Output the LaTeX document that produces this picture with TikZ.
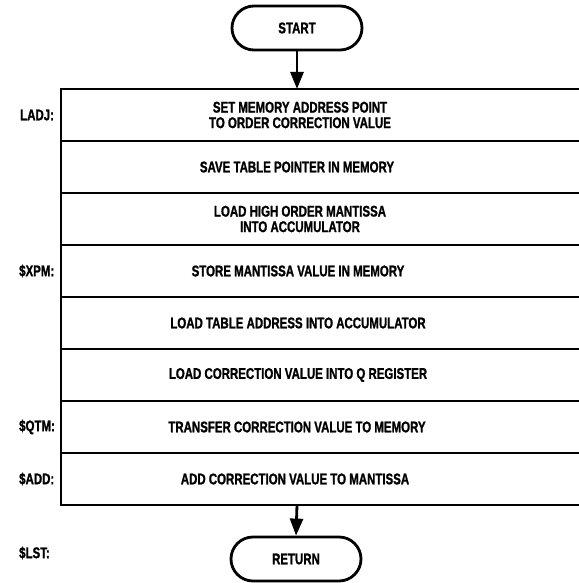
\documentclass[tikz,border=0pt]{standalone}
\usepackage{fontspec}
\setmainfont{Liberation Sans}[FakeStretch=0.74,FakeBold=1.2]
\usetikzlibrary{arrows.meta,shapes.misc}
\begin{document}
\begin{tikzpicture}[x=1pt,y=-1pt,
  every node/.style={font=\fontsize{15.5}{15.5}\selectfont\bfseries},
  term/.style={draw,line width=2.8pt,rounded rectangle,minimum width=130pt,minimum height=44pt,inner sep=0pt},
  rowtext/.style={align=center,inner sep=0pt},
  rowline/.style={line width=2.8pt},
  lbl/.style={anchor=west,inner sep=0pt},
  flow/.style={line width=2.8pt,-{Triangle[length=17pt,width=13pt]}}]
\useasboundingbox (0,0) rectangle (578,583);
% terminators
\node[term] (start) at (297,28) {START};
\node[term] (ret) at (296,559) {RETURN};
% row boxes
\foreach \t in {89,141,193,245,297,349,401,453}{
  \draw[rowline] (61,\t) rectangle (600,\t+52);
}
\coordinate (top) at (297,89);
\coordinate (bot) at (297,505);
% row texts
\node[rowtext] (r1) at (300,115) {SET MEMORY ADDRESS POINT\\TO ORDER CORRECTION VALUE};
\node[rowtext] (r2) at (297,167) {SAVE TABLE POINTER IN MEMORY};
\node[rowtext] (r3) at (300,219) {LOAD HIGH ORDER MANTISSA\\INTO ACCUMULATOR};
\node[rowtext] (r4) at (298,271) {STORE MANTISSA VALUE IN MEMORY};
\node[rowtext] (r5) at (298,323) {LOAD TABLE ADDRESS INTO ACCUMULATOR};
\node[rowtext] (r6) at (298,375) {LOAD CORRECTION VALUE INTO Q REGISTER};
\node[rowtext] (r7) at (297,427) {TRANSFER CORRECTION VALUE TO MEMORY};
\node[rowtext] (r8) at (295,479) {ADD CORRECTION VALUE TO MANTISSA};
% labels
\node[lbl] (l1) at (20,115) {LADJ:};
\node[lbl] (l4) at (19,271) {\$XPM:};
\node[lbl] (l7) at (19,427) {\$QTM:};
\node[lbl] (l8) at (19,479) {\$ADD:};
\node[lbl] (l9) at (19,553) {\$LST:};
% connectors
\draw[flow] (start.south) -- (top);
\draw[flow] (bot) -- (ret.north);
\end{tikzpicture}
\end{document}
